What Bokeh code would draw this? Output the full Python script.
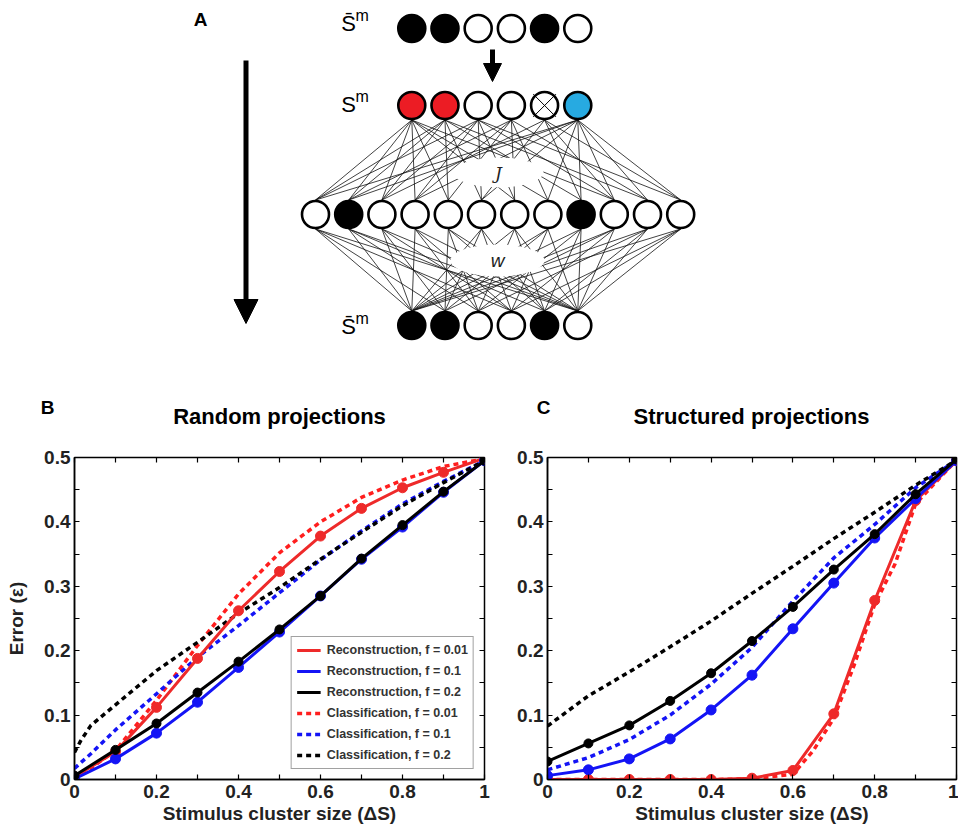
from bokeh.plotting import figure
from bokeh.layouts import column, row
from bokeh.models import (Range1d, FixedTicker, LinearAxis, Label, Legend, LegendItem,
                          Arrow, NormalHead, CustomJSTickFormatter)
from bokeh.embed import file_html
from bokeh.resources import INLINE

FONT = "Liberation Sans"

# ---------------- data: panel B (random projections) ----------------
dS = [0.0, 0.1, 0.2, 0.3, 0.4, 0.5, 0.6, 0.7, 0.8, 0.9, 1.0]
rand_rec_f001 = [0.004, 0.043, 0.112, 0.188, 0.262, 0.323, 0.378, 0.421, 0.453, 0.477, 0.499]
rand_rec_f01 = [0.001, 0.032, 0.072, 0.120, 0.174, 0.229, 0.285, 0.342, 0.392, 0.446, 0.495]
rand_rec_f02 = [0.006, 0.046, 0.087, 0.135, 0.183, 0.233, 0.285, 0.343, 0.395, 0.447, 0.495]

rand_cls_x = [0.0, 0.015, 0.04, 0.1, 0.2, 0.3, 0.4, 0.5, 0.6, 0.7, 0.8, 0.9, 1.0]
rand_cls_f001 = [0.001, 0.007, 0.018, 0.045, 0.123, 0.208, 0.288, 0.352, 0.400, 0.438, 0.465, 0.486, 0.498]
rand_cls_f01 = [0.017, 0.026, 0.040, 0.077, 0.133, 0.190, 0.239, 0.290, 0.341, 0.386, 0.428, 0.463, 0.495]
rand_cls_f02 = [0.042, 0.060, 0.084, 0.116, 0.169, 0.213, 0.258, 0.298, 0.342, 0.384, 0.425, 0.461, 0.495]

# ---------------- data: panel C (structured projections) ----------------
struct_rec_f001 = [0.0, 0.0, 0.0, 0.0, 0.0, 0.002, 0.014, 0.102, 0.278, 0.433, 0.495]
struct_rec_f01 = [0.006, 0.015, 0.032, 0.063, 0.108, 0.162, 0.234, 0.305, 0.375, 0.436, 0.495]
struct_rec_f02 = [0.028, 0.056, 0.084, 0.122, 0.165, 0.215, 0.268, 0.326, 0.381, 0.443, 0.497]

struct_cls_x_f001 = [0.0, 0.1, 0.2, 0.3, 0.4, 0.5, 0.6, 0.65, 0.7, 0.75, 0.8, 0.85, 0.9, 1.0]
struct_cls_f001 = [0.0, 0.0, 0.0, 0.0, 0.0, 0.001, 0.008, 0.045, 0.095, 0.178, 0.272, 0.335, 0.428, 0.496]
struct_cls_f01 = [0.015, 0.034, 0.062, 0.100, 0.148, 0.205, 0.277, 0.344, 0.396, 0.453, 0.496]
struct_cls_f02 = [0.083, 0.130, 0.167, 0.206, 0.246, 0.289, 0.331, 0.374, 0.415, 0.457, 0.496]

panel_titles = ["Random projections", "Structured projections"]
panel_letters = ["A", "B", "C"]
legend_labels = ["Reconstruction, f = 0.01", "Reconstruction, f = 0.1", "Reconstruction, f = 0.2",
                 "Classification, f = 0.01", "Classification, f = 0.1", "Classification, f = 0.2"]
x_ticks = [0.0, 0.2, 0.4, 0.6, 0.8, 1.0]
x_minor = [0.1, 0.3, 0.5, 0.7, 0.9]
y_ticks = [0.0, 0.1, 0.2, 0.3, 0.4, 0.5]
y_minor = [0.05, 0.15, 0.25, 0.35, 0.45]

# ---------------- data: panel A (network diagram) ----------------
stored_pattern = [1, 1, 0, 0, 1, 0]                      # S-bar m (top and bottom rows)
cue_colors = ["#EC1C24", "#EC1C24", "white", "white", "white", "#27AAE1"]
cue_deleted = [4]                                       # crossed-out unit
hidden_pattern = [0, 1, 0, 0, 0, 0, 0, 0, 1, 0, 0, 0]
J_edges = {0: [0, 1, 2, 3, 4, 6, 7, 9], 1: [0, 1, 2, 4, 5, 8, 10], 2: [0, 2, 3, 5, 6, 9, 11],
           3: [1, 3, 4, 6, 7, 10], 4: [2, 5, 8, 9, 11], 5: [0, 1, 3, 5, 7, 8, 9, 10, 11]}
W_edges = {0: [0, 1, 3, 5], 1: [0, 2, 4, 5], 2: [0, 1, 3, 5], 3: [0, 2, 3, 5], 4: [1, 2, 4, 5],
           5: [0, 1, 3, 4], 6: [0, 2, 4, 5], 7: [0, 1, 3, 5], 8: [0, 2, 4, 5], 9: [0, 1, 3, 5],
           10: [0, 2, 4, 5], 11: [0, 3, 4, 5]}

# ---------------- top figure: panel A + headings of B and C ----------------
DW, DH = 958, 440
d = figure(width=DW, height=DH, x_range=Range1d(0, DW), y_range=Range1d(DH, 0),
           x_axis_type=None, y_axis_type=None, output_backend="svg", toolbar_location=None,
           min_border=0, min_border_left=0, min_border_right=0, min_border_top=0, min_border_bottom=0)
d.grid.visible = False
d.outline_line_color = None

slot0, dslot, off6 = 315.0, 33.2, 2.9
row_y = [28, 105, 214, 325]
R = 14.5

def x6(i):
    return slot0 + dslot * (i + off6)

def x12(k):
    return slot0 + dslot * k

jx0, jy0, jx1, jy1 = [], [], [], []
for i, ks in J_edges.items():
    for k in ks:
        jx0.append(x6(i)); jy0.append(row_y[1] + R); jx1.append(x12(k)); jy1.append(row_y[2] - R)
d.segment(jx0, jy0, jx1, jy1, line_color="#111111", line_width=0.8)
wx0, wy0, wx1, wy1 = [], [], [], []
for k, js in W_edges.items():
    for j in js:
        wx0.append(x12(k)); wy0.append(row_y[2] + R); wx1.append(x6(j)); wy1.append(row_y[3] - R)
d.segment(wx0, wy0, wx1, wy1, line_color="#111111", line_width=0.8)

d.ellipse(x=[498, 497], y=[172, 260], width=[90, 94], height=[30, 32], fill_color="white", line_color=None)

def fills(pattern):
    return ["black" if s else "white" for s in pattern]

d.circle(x=[x6(i) for i in range(6)], y=[row_y[0]] * 6, radius=R - 1, fill_color=fills(stored_pattern),
         line_color="black", line_width=2.6)
d.circle(x=[x6(i) for i in range(6)], y=[row_y[1]] * 6, radius=R - 1, fill_color=cue_colors,
         line_color="black", line_width=2.6)
d.scatter(x=[x6(i) for i in cue_deleted], y=[row_y[1]] * len(cue_deleted), marker="x", size=32,
          line_color="black", line_width=1)
d.circle(x=[x12(k) for k in range(12)], y=[row_y[2]] * 12, radius=R - 1, fill_color=fills(hidden_pattern),
         line_color="black", line_width=2.6)
d.circle(x=[x6(i) for i in range(6)], y=[row_y[3]] * 6, radius=R - 1, fill_color=fills(stored_pattern),
         line_color="black", line_width=2.6)

d.add_layout(Arrow(end=NormalHead(size=24, fill_color="black", line_color="black"),
                   x_start=245.5, y_start=60, x_end=245.5, y_end=323, line_width=5, line_color="black"))
d.add_layout(Arrow(end=NormalHead(size=18, fill_color="black", line_color="black"),
                   x_start=492, y_start=49, x_end=492, y_end=81, line_width=5, line_color="black"))

for (lx, ly), letter in zip([(200, 19), (47, 407), (543, 407)], panel_letters):
    d.add_layout(Label(x=lx, y=ly, text=letter, text_font=FONT, text_font_style="bold",
                       text_font_size="19px", text_color="black", text_align="center",
                       text_baseline="middle"))
for tx, ttl in zip([279, 751], panel_titles):
    d.add_layout(Label(x=tx, y=416, text=ttl, text_font=FONT, text_font_style="bold",
                       text_font_size="22px", text_color="black", text_align="center",
                       text_baseline="middle"))

for yy, txt in [(row_y[0] - 5, "S\u0304"), (row_y[1] - 1, "S"), (row_y[3] + 1, "S\u0304")]:
    d.add_layout(Label(x=348, y=yy, text=txt, text_font=FONT, text_font_size="22px", text_color="black",
                       text_align="center", text_baseline="middle"))
    d.add_layout(Label(x=355, y=yy - 8, text="m", text_font=FONT, text_font_size="16px", text_color="black",
                       text_align="left", text_baseline="middle"))
d.add_layout(Label(x=498, y=172, text="J", text_font="DejaVu Serif", text_font_style="italic",
                   text_font_size="17px", text_color="#222222", text_align="center", text_baseline="middle"))
d.add_layout(Label(x=497, y=260, text="w", text_font=FONT, text_font_style="italic",
                   text_font_size="19px", text_color="#222222", text_align="center", text_baseline="middle"))

# ---------------- panels B and C ----------------
RED, BLUE, BLACK = "#EE2A2A", "#1414F5", "#000000"
RED_D = "#FF1E1E"

def make_panel(width, left, right, rec, cls, ylabel, with_legend):
    p = figure(width=width, height=833 - DH, x_range=Range1d(0, 1), y_range=Range1d(0, 0.5),
               output_backend="svg", toolbar_location=None,
               min_border_left=left, min_border_right=right, min_border_top=457 - DH, min_border_bottom=54)
    p.grid.visible = False
    p.outline_line_color = "black"
    p.outline_line_width = 1.5

    for ax in (p.xaxis[0], p.yaxis[0]):
        ax.major_label_text_font = FONT
        ax.major_label_text_font_style = "bold"
        ax.major_label_text_font_size = "19px"
        ax.major_label_text_color = "#222222"
        ax.axis_label_text_font = FONT
        ax.axis_label_text_font_style = "bold"
        ax.axis_label_text_font_size = "19px"
        ax.axis_label_text_color = "#222222"
        ax.major_tick_in = 5
        ax.major_tick_out = 0
        ax.minor_tick_in = 5
        ax.minor_tick_out = 0
        ax.axis_line_width = 1.5
        ax.major_tick_line_width = 1.2
        ax.minor_tick_line_width = 1.2
    p.xaxis.ticker = FixedTicker(ticks=x_ticks, minor_ticks=x_minor)
    p.yaxis.ticker = FixedTicker(ticks=y_ticks, minor_ticks=y_minor)
    p.xaxis.major_label_overrides = {0.0: "0", 1.0: "1"}
    p.yaxis.major_label_overrides = {0.0: "0"}
    p.xaxis.axis_label = "Stimulus cluster size (\u0394S)"
    p.xaxis.axis_label_standoff = 2
    p.xaxis.major_label_standoff = 5
    p.yaxis.major_label_standoff = 4
    if ylabel:
        p.yaxis.axis_label = ylabel
        p.yaxis.axis_label_standoff = 14

    blank = CustomJSTickFormatter(code="return ''")
    for place, tk in (("right", FixedTicker(ticks=y_ticks, minor_ticks=y_minor)),
                      ("above", FixedTicker(ticks=x_ticks, minor_ticks=x_minor))):
        ax = LinearAxis(ticker=tk, formatter=blank, major_tick_in=5, major_tick_out=0,
                        minor_tick_in=5, minor_tick_out=0, major_label_standoff=0,
                        major_label_text_font_size="1px",
                        axis_line_color=None, major_tick_line_width=1.2, minor_tick_line_width=1.2)
        p.add_layout(ax, place)

    (r1x, r1), (r2x, r2), (r3x, r3) = rec
    (c1x, c1), (c2x, c2), (c3x, c3) = cls
    dc1 = p.line(c1x, c1, line_color=RED_D, line_width=3.5, line_dash="5 4")
    dc2 = p.line(c2x, c2, line_color=BLUE, line_width=3.5, line_dash="5 4")
    dc3 = p.line(c3x, c3, line_color=BLACK, line_width=3.5, line_dash="5 4")
    l1 = p.line(r1x, r1, line_color=RED, line_width=3)
    p.scatter(r1x, r1, size=10, fill_color=RED, line_color=RED)
    l2 = p.line(r2x, r2, line_color=BLUE, line_width=3)
    p.scatter(r2x, r2, size=10, fill_color=BLUE, line_color=BLUE)
    l3 = p.line(r3x, r3, line_color=BLACK, line_width=3)
    p.scatter(r3x, r3, size=9, fill_color=BLACK, line_color=BLACK)

    if with_legend:
        items = [LegendItem(label=lab, renderers=[r]) for lab, r in
                 zip(legend_labels, [l1, l2, l3, dc1, dc2, dc3])]
        lg = Legend(items=items, location="bottom_right", margin=10, padding=5, spacing=5,
                    label_height=16, glyph_height=16, glyph_width=24, label_standoff=6,
                    label_text_font=FONT, label_text_font_style="bold", label_text_font_size="12.5px",
                    label_text_color="#333333", border_line_color="#444444", border_line_width=1.2,
                    background_fill_color="white", background_fill_alpha=1.0)
        p.add_layout(lg)
    return p

pB = make_panel(490, 74, 6,
                [(dS, rand_rec_f001), (dS, rand_rec_f01), (dS, rand_rec_f02)],
                [(rand_cls_x, rand_cls_f001), (rand_cls_x, rand_cls_f01), (rand_cls_x, rand_cls_f02)],
                "Error (\u03b5)", True)
pC = make_panel(468, 57, 2,
                [(dS, struct_rec_f001), (dS, struct_rec_f01), (dS, struct_rec_f02)],
                [(struct_cls_x_f001, struct_cls_f001), (dS, struct_cls_f01), (dS, struct_cls_f02)],
                None, False)

layout = column(d, row(pB, pC, spacing=0), spacing=0)
open("out.html", "w").write(file_html(layout, INLINE))
